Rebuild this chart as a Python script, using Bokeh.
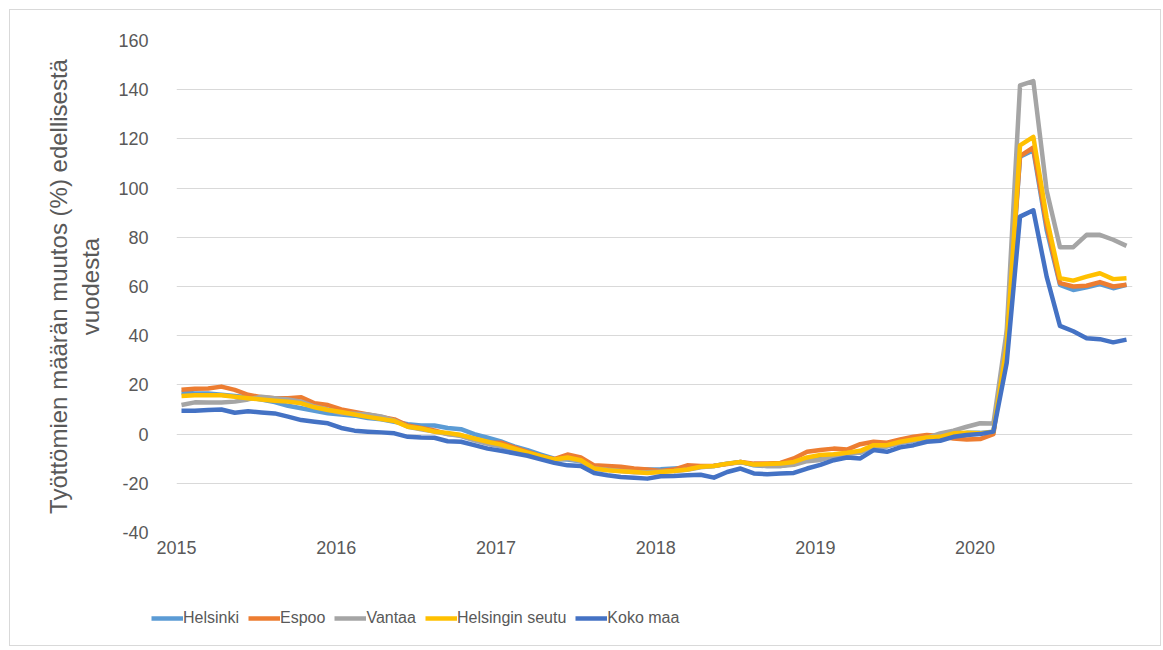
from bokeh.plotting import figure
from bokeh.layouts import column
from bokeh.models import Range1d, FixedTicker, Legend, LegendItem, ColumnDataSource
from bokeh.embed import file_html
from bokeh.resources import INLINE

years = ["2015", "2016", "2017", "2018", "2019", "2020"]
y_ticks = [-40, -20, 0, 20, 40, 60, 80, 100, 120, 140, 160]
series_names = ["Helsinki", "Espoo", "Vantaa", "Helsingin seutu", "Koko maa"]
colors = ["#5B9BD5", "#ED7D31", "#A5A5A5", "#FFC000", "#4472C4"]

helsinki = [17, 16.5, 16.5, 16, 15.5, 15, 14, 13, 11.5, 10.5, 9.5, 8.5,
            8, 7.5, 6.5, 6, 5, 4, 3.5, 3.5, 2.5, 2, 0, -1.5,
            -3, -5, -6.5, -8.3, -10, -10.3, -11, -13.3, -14, -14.4, -14.4, -14.4,
            -14.3, -14, -13.7, -13.3, -13, -12, -11.3, -12.7, -13, -13, -12, -10.6,
            -9, -8.5, -8, -7.5, -5, -5, -3.5, -2.5, -1.5, -1, 0, 0.5,
            0.5, 1, 38, 112.7, 115.4, 83, 60.7, 58.6, 59.7, 61, 59.3, 60.7]
espoo = [18, 18.4, 18.5, 19.3, 18, 16, 15, 14.6, 14.6, 15, 12.5, 11.8,
         10, 9, 8, 7, 6, 3.5, 2.5, 1.5, 0, -0.5, -2, -3.5,
         -3.5, -5.4, -7.2, -9, -10.2, -8.3, -9.5, -12.7, -13, -13.3, -14, -14.4,
         -15, -14.4, -12.7, -13, -12.9, -12.2, -11.3, -12, -12, -11.7, -9.9, -7.2,
         -6.5, -5.9, -6.3, -4.1, -3.1, -3.5, -2.2, -1.1, -0.4, -0.8, -1.8, -2.2,
         -2, 0, 40, 113, 116.5, 85, 61.4, 60, 60.3, 61.8, 60, 60.7]
vantaa = [11.8, 12.9, 12.8, 12.8, 13.2, 14.1, 15.2, 14.6, 14.1, 13.2, 11.2, 10,
          8.5, 8.3, 8, 7.2, 5.5, 3, 2, 1, 0, -0.8, -2.5, -4,
          -5, -6.5, -8, -9.3, -10.5, -10, -11, -14, -14.5, -15, -15.5, -15.5,
          -15.3, -15, -14.5, -13.5, -13, -12, -11.5, -12.5, -13, -13, -12.5, -11,
          -10.5, -9, -8, -7.5, -5, -5, -3.5, -2.5, -1.5, 0.3, 1.4, 3,
          4.4, 4.3, 42, 141.8, 143.5, 99, 76, 76, 81, 81, 79, 76.5]
seutu = [15.5, 15.8, 15.8, 15.8, 15.2, 14.6, 14.1, 13.6, 13.2, 12.5, 10.9, 9.8,
         9, 8, 7, 6.1, 5.3, 3, 2.3, 1, 0.5, -0.4, -1.8, -3.1,
         -4.3, -5.9, -7.5, -9, -10.3, -9.5, -10.6, -14, -14.7, -15.1, -15.4, -15.8,
         -15.4, -15, -14.4, -13.3, -13, -12, -11.3, -12.4, -12.2, -12, -11.3, -9.5,
         -8.5, -8.2, -7.6, -6.8, -4.5, -4.5, -3.1, -2.2, -1.4, -1.1, 0.3, 0.5,
         0.3, 1, 36, 117.4, 120.8, 88, 63.4, 62.4, 64, 65.4, 63, 63.4]
koko_maa = [9.5, 9.5, 9.8, 10, 8.7, 9.3, 8.8, 8.4, 7.1, 5.7, 5, 4.4,
            2.5, 1.4, 1, 0.7, 0.3, -1.1, -1.4, -1.5, -2.9, -3.1, -4.5, -5.9,
            -6.8, -7.8, -8.8, -10.3, -11.7, -12.7, -13, -15.8, -16.7, -17.4, -17.7, -18.1,
            -17.1, -17, -16.7, -16.5, -17.7, -15.4, -14, -16, -16.3, -16, -15.8, -14,
            -12.5, -10.6, -9.5, -9.9, -6.5, -7.2, -5.4, -4.5, -3.1, -2.7, -1.1, -0.4,
            0, 1, 29, 88.4, 91, 64, 44, 41.8, 39, 38.6, 37.3, 38.4]

all_series = [helsinki, espoo, vantaa, seutu, koko_maa]
months = list(range(len(helsinki)))

TEXT = "#595959"
FONT = "Liberation Sans"
W = 1150

p = figure(width=W, height=555, output_backend="svg", toolbar_location=None,
           x_range=Range1d(-0.375, 71.45), y_range=Range1d(-40, 160),
           min_border_left=166, min_border_right=28, min_border_top=30, min_border_bottom=33)
p.frame_align = False
p.outline_line_color = None
p.background_fill_color = "white"
p.border_fill_color = "white"

p.xgrid.grid_line_color = None
p.ygrid.grid_line_color = "#d9d9d9"
p.ygrid.grid_line_width = 1

p.yaxis.ticker = FixedTicker(ticks=y_ticks)
p.yaxis.major_label_overrides = {t: str(t) for t in y_ticks}
xticks = [12 * k - 0.375 for k in range(len(years))]
p.xaxis.ticker = FixedTicker(ticks=xticks)
p.xaxis.major_label_overrides = {t: y for t, y in zip(xticks, years)}

for ax in (p.xaxis, p.yaxis):
    ax.axis_line_color = None
    ax.major_tick_line_color = None
    ax.minor_tick_line_color = None
    ax.major_label_text_color = TEXT
    ax.major_label_text_font = FONT
    ax.major_label_text_font_size = "18px"
p.xaxis.major_label_standoff = 2
p.yaxis.major_label_standoff = 22
p.yaxis.axis_label = "Työttömien määrän muutos (%) edellisestä\nvuodesta"
p.yaxis.axis_label_text_font = FONT
p.yaxis.axis_label_text_font_size = "24px"
p.yaxis.axis_label_text_font_style = "normal"
p.yaxis.axis_label_text_color = TEXT
p.yaxis.axis_label_standoff = 11

for vals, col in zip(all_series, colors):
    src = ColumnDataSource(data=dict(x=months, y=vals))
    p.line("x", "y", source=src, line_color=col, line_width=4.5, line_join="round")

# legend strip below the chart
p2 = figure(width=W, height=80, output_backend="svg", toolbar_location=None,
            x_range=Range1d(0, 1), y_range=Range1d(0, 1),
            min_border_left=0, min_border_right=0, min_border_top=0, min_border_bottom=0)
p2.frame_align = False
p2.axis.visible = False
p2.grid.visible = False
p2.outline_line_color = None
p2.border_fill_color = "white"
items = []
for name, col in zip(series_names, colors):
    r = p2.line(x=[float("nan")], y=[float("nan")], line_color=col, line_width=4.5)
    items.append(LegendItem(label=name, renderers=[r]))
legend = Legend(items=items, orientation="horizontal", location=(141, 18),
                border_line_color=None, background_fill_alpha=0,
                glyph_width=32, glyph_height=18, label_standoff=0, spacing=9, padding=10,
                label_text_font=FONT, label_text_font_size="16px",
                label_text_color=TEXT)
p2.add_layout(legend, "center")

layout = column(p, p2, spacing=0)
layout.margin = (9, 0, 0, 9)
layout.styles = {"border": "1px solid #d9d9d9"}

open("out.html", "w").write(file_html(layout, INLINE))
